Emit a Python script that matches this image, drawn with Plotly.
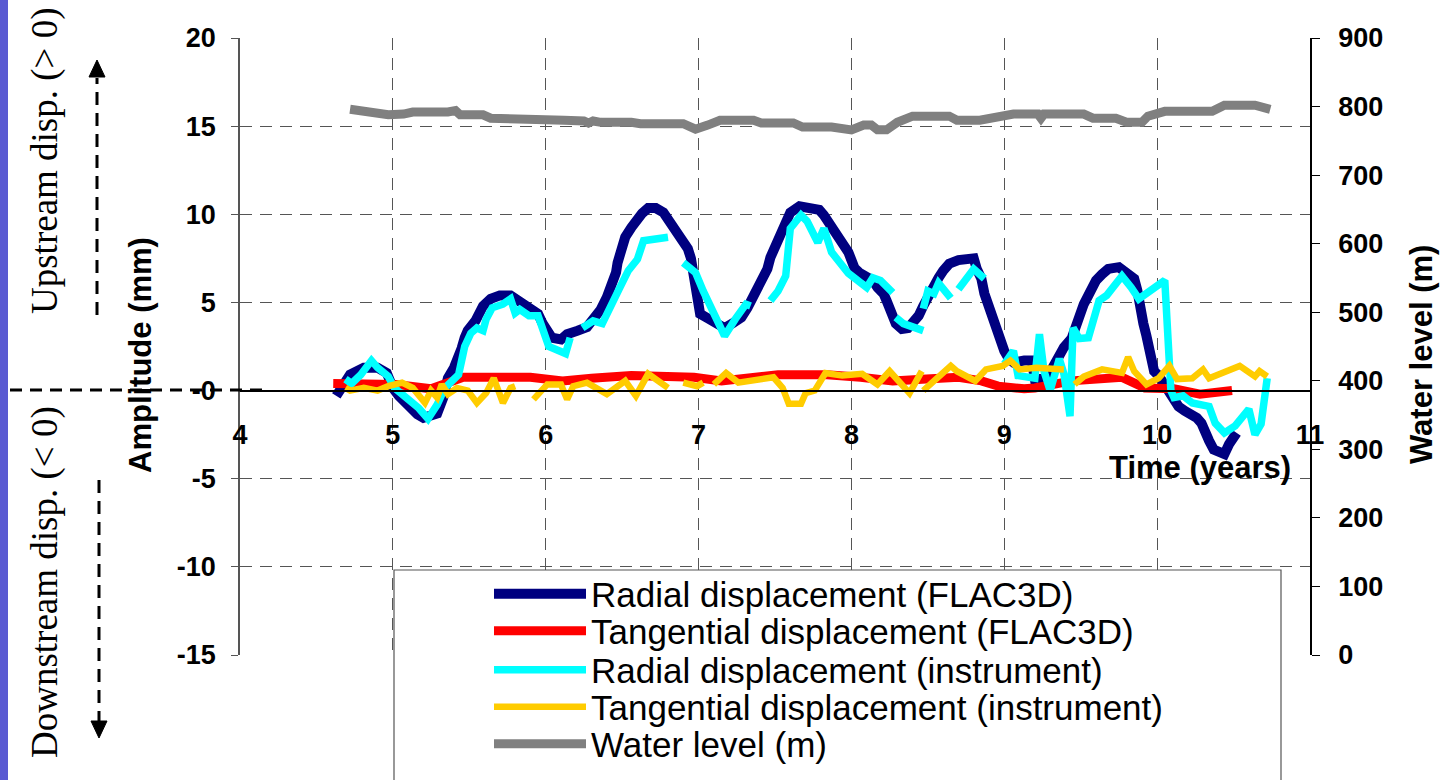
import plotly.graph_objects as go

# ---------------- data ----------------
# Radial displacement computed with FLAC3D (mm)
radial_flac_t = [4.63, 4.69, 4.72, 4.81, 4.90, 4.96, 5.00, 5.04, 5.07, 5.11, 5.16, 5.20, 5.25, 5.29, 5.33,
                 5.36, 5.40, 5.43, 5.45, 5.47, 5.49, 5.54, 5.56, 5.59, 5.64, 5.70, 5.77, 5.83, 5.90, 5.95,
                 5.98, 6.01, 6.04, 6.10, 6.14, 6.21, 6.27, 6.31, 6.36, 6.40, 6.44, 6.46, 6.47, 6.50, 6.52,
                 6.56, 6.59, 6.63, 6.67, 6.72, 6.77, 6.80, 6.83, 6.86, 6.90, 6.93, 6.95, 6.97, 6.98, 7.01,
                 7.06, 7.11, 7.17, 7.22, 7.28, 7.32, 7.36, 7.39, 7.42, 7.45, 7.47, 7.51, 7.53, 7.57, 7.60,
                 7.66, 7.74, 7.79, 7.82, 7.85, 7.89, 7.92, 7.95, 7.98, 8.00, 8.02, 8.05, 8.11, 8.14, 8.17,
                 8.21, 8.23, 8.25, 8.27, 8.29, 8.33, 8.37, 8.40, 8.44, 8.47, 8.50, 8.53, 8.57, 8.60, 8.64,
                 8.70, 8.76, 8.80, 8.82, 8.85, 8.87, 8.90, 8.91, 8.95, 8.97, 9.00, 9.03, 9.06, 9.13, 9.18,
                 9.20, 9.26, 9.31, 9.35, 9.39, 9.44, 9.47, 9.49, 9.52, 9.55, 9.57, 9.60, 9.64, 9.68, 9.75,
                 9.81, 9.85, 9.87, 9.88, 9.90, 9.91, 9.93, 9.95, 9.96, 9.98, 10.01, 10.04, 10.07, 10.11,
                 10.14, 10.18, 10.23, 10.26, 10.29, 10.32, 10.34, 10.37, 10.41, 10.44, 10.47, 10.50, 10.52]
radial_flac_v = [-0.3, 0.5, 0.9, 1.3, 1.3, 1.0, 0.15, -0.3, -0.6, -1.0, -1.35, -1.55, -1.45, -1.3, -0.4,
                 0.7, 1.3, 1.85, 2.4, 3.0, 3.4, 3.95, 4.35, 4.8, 5.2, 5.4, 5.4, 5.1, 4.7, 4.35,
                 3.8, 3.4, 3.0, 2.9, 3.2, 3.4, 3.6, 4.05, 4.6, 5.3, 6.05, 6.7, 7.25, 8.05, 8.7,
                 9.25, 9.65, 10.05, 10.35, 10.35, 10.1, 9.75, 9.4, 9.0, 8.5, 8.05, 7.5, 6.4, 5.6, 4.35,
                 4.1, 3.9, 3.55, 3.8, 4.15, 4.7, 5.3, 5.8, 6.35, 6.9, 7.55, 8.3, 8.9, 9.55, 10.1,
                 10.45, 10.35, 10.25, 9.95, 9.55, 9.2, 8.8, 8.4, 7.85, 7.4, 6.95, 6.7, 6.5, 6.25, 5.85,
                 5.5, 5.1, 4.6, 4.15, 3.8, 3.5, 3.55, 3.85, 4.25, 4.8, 5.3, 5.95, 6.4, 6.8, 7.2,
                 7.4, 7.4, 7.5, 6.9, 6.35, 5.5, 4.7, 4.4, 3.7, 2.95, 2.25, 1.8, 1.6, 1.7, 1.7,
                 0.65, 0.65, 1.2, 1.85, 2.45, 2.95, 3.7, 4.35, 4.9, 5.4, 5.85, 6.25, 6.6, 6.9, 7.0,
                 6.7, 6.35, 5.7, 5.1, 4.4, 3.8, 3.1, 2.45, 1.8, 1.1, 0.85, 0.45, -0.1, -0.5,
                 -0.9, -1.15, -1.35, -1.55, -1.85, -2.3, -2.85, -3.35, -3.5, -3.6, -3.05, -2.7, -2.4]

# Tangential displacement computed with FLAC3D (mm)
tang_flac_t = [4.61, 4.90, 5.02, 5.25, 5.35, 5.46, 5.90, 6.11, 6.30, 6.56, 6.97, 7.15, 7.52, 7.84, 8.06,
               8.27, 8.49, 8.70, 8.85, 8.96, 9.13, 9.20, 9.44, 9.77, 9.92, 10.11, 10.28, 10.49]
tang_flac_v = [0.4, 0.4, 0.35, 0.1, 0.45, 0.75, 0.75, 0.55, 0.7, 0.85, 0.75, 0.55, 0.9, 0.9, 0.75,
               0.55, 0.65, 0.75, 0.55, 0.25, 0.1, 0.15, 0.55, 0.75, 0.15, 0.1, -0.2, 0.0]

# Radial displacement measured by the instrument (mm); None marks missing readings
radial_inst_t = [4.69, 4.73, 4.79, 4.86, 4.90, 4.97, 5.01, 5.09, 5.17, 5.23, 5.29, 5.34, 5.39, 5.43, 5.45,
                 5.47, 5.51, 5.55, 5.59, 5.61, 5.65, 5.72, 5.77, 5.80, 5.83, 5.89, 5.95, 5.99, 6.02, 6.13,
                 6.16, 6.20,
                 6.24, 6.31, 6.37, 6.41, 6.48, 6.54, 6.60, 6.64, 6.80, 6.85,
                 6.90, 6.98, 7.03, 7.10, 7.17, 7.24, 7.31, 7.34, 7.40,
                 7.47, 7.52, 7.57, 7.59, 7.60, 7.67, 7.71, 7.78, 7.82, 7.85, 7.87, 7.98, 8.02, 8.10, 8.14,
                 8.19, 8.27, 8.28,
                 8.29, 8.34, 8.47, 8.47,
                 8.47, 8.50, 8.54, 8.57, 8.65, 8.68,
                 8.70, 8.75, 8.80, 8.87, 8.93,
                 9.00, 9.06, 9.09, 9.20, 9.23, 9.26, 9.30, 9.34, 9.36, 9.39, 9.43, 9.45, 9.49, 9.55, 9.62,
                 9.67, 9.77, 9.83, 9.88, 10.05, 10.07, 10.09, 10.11, 10.17, 10.23, 10.34, 10.38, 10.44,
                 10.51, 10.60, 10.64, 10.68, 10.72]
radial_inst_v = [0.65, 0.4, 0.9, 1.7, 1.3, 0.8, 0.15, -0.4, -1.0, -1.6, -0.8, 0.15, 0.65, 0.9, 1.7,
                 2.5, 3.25, 3.55, 3.4, 4.05, 4.7, 4.9, 5.2, 4.4, 4.6, 4.25, 4.25, 3.4, 2.5, 2.1,
                 3.0, None,
                 3.55, 3.95, 3.8, 4.6, 5.75, 6.8, 7.45, 8.5, 8.7, None,
                 7.25, 6.7, 5.65, 4.35, 3.1, 4.05, 4.9, 4.8, None,
                 5.1, 5.65, 6.5, 8.5, 9.2, 9.95, 9.6, 8.4, 9.2, 8.4, 7.85, 6.65, 6.35, 5.85, 6.4,
                 6.25, 5.55, None,
                 4.15, 3.8, 3.4, None,
                 4.65, 5.65, 5.5, 6.1, 5.25, None,
                 5.75, 6.35, 6.9, 6.35, None,
                 1.5, 2.25, 0.85, 0.7, 3.2, 1.1, 0.0, 1.4, 1.8, 0.95, -1.45, 3.55, 2.95, 3.0, 5.1,
                 5.4, 6.5, 5.85, 5.2, 6.25, 1.85, 0.0, -0.4, -0.3, -0.7, -0.9, -1.85, -2.4,
                 -2.0, -1.05, -2.5, -1.9, 0.7]

# Tangential displacement measured by the instrument (mm); None marks missing readings
tang_inst_t = [4.69, 4.72, 4.81, 4.90, 4.97, 5.06, 5.13, 5.21, 5.25, 5.29, 5.32, 5.36, 5.42, 5.49, 5.55,
               5.61, 5.66, 5.72, 5.77, 5.80, 5.86,
               5.92, 6.01, 6.10, 6.14, 6.18, 6.27, 6.40, 6.52, 6.59, 6.67, 6.80, 6.85,
               6.90, 6.99, 7.03, 7.06,
               7.10, 7.18, 7.26, 7.39, 7.49, 7.55, 7.59, 7.67, 7.70, 7.76, 7.83, 7.94, 8.07, 8.17, 8.25,
               8.38, 8.46, 8.465,
               8.47, 8.54, 8.65, 8.69, 8.81, 8.88, 8.99, 9.04, 9.10, 9.21, 9.39, 9.42,
               9.46, 9.52, 9.64, 9.77, 9.81, 9.85, 9.93, 10.01, 10.08, 10.13, 10.23, 10.30, 10.34, 10.44,
               10.54, 10.64, 10.67, 10.72]
tang_inst_v = [0.15, 0.0, 0.15, 0.0, 0.25, 0.45, 0.15, -0.7, 0.0, -0.4, 0.35, -0.2, 0.15, 0.0, -0.7,
               -0.15, 0.7, -0.7, 0.15, 0.25, None,
               -0.5, 0.35, 0.35, -0.5, 0.25, 0.45, -0.2, 0.55, -0.3, 0.95, 0.15, None,
               0.45, 0.25, 0.45, None,
               0.35, 1.0, 0.45, 0.65, 0.75, 0.15, -0.75, -0.75, -0.15, 0.0, 1.0, 0.85, 0.95, 0.35, 1.1,
               -0.15, 1.1, None,
               0.0, 0.55, 1.4, 1.1, 0.55, 1.2, 1.4, 1.7, 1.2, 1.3, 1.2, None,
               0.35, 0.8, 1.2, 1.0, 1.9, 1.1, 0.35, 0.7, 1.4, 0.65, 0.7, 1.2, 0.7, 1.1,
               1.4, 0.8, 1.1, 0.8]

# Reservoir water level (m), right axis
water_t = [4.72, 4.81, 4.90, 4.97, 5.07, 5.13, 5.36, 5.41, 5.44, 5.59, 5.64, 6.03, 6.12, 6.25, 6.28,
           6.31, 6.36, 6.56, 6.62, 6.90, 6.98, 7.06, 7.14, 7.36, 7.41, 7.62, 7.68, 7.87, 8.00, 8.08,
           8.13, 8.17, 8.23, 8.30, 8.40, 8.64, 8.69, 8.84, 9.01, 9.06, 9.22, 9.24, 9.26, 9.52, 9.58,
           9.73, 9.80, 9.90, 9.94, 10.05, 10.36, 10.44, 10.64, 10.72, 10.74]
water_level = [796, 792, 790, 788, 789, 792, 792, 794, 788, 788, 783, 783, 780, 779, 776,
               779, 777, 777, 775, 775, 767, 773, 780, 780, 776, 776, 770, 770, 766, 773,
               773, 766, 766, 777, 786, 786, 780, 780, 786, 789, 789, 783, 789, 789, 783,
               783, 777, 777, 786, 793, 793, 802, 802, 798, 796]

x_ticks = [4, 5, 6, 7, 8, 9, 10, 11]
y_ticks = [-15, -10, -5, 0, 5, 10, 15, 20]
y_tick_text = ["-15", "-10", "-5", "-0", "5", "10", "15", "20"]
y2_ticks = [0, 100, 200, 300, 400, 500, 600, 700, 800, 900]

series_names = ["Radial displacement (FLAC3D)", "Tangential displacement (FLAC3D)",
                "Radial displacement (instrument)", "Tangential displacement (instrument)",
                "Water level (m)"]
series_colors = ["#000080", "#ff0000", "#00ffff", "#ffcc00", "#808080"]

# ---------------- layout geometry (pixels) ----------------
W, H = 1441, 780
ML, MR, MT, MB = 240, 131, 38, 125
PW, PH = W - ML - MR, H - MT - MB


def px(X):
    """pixel column -> paper x"""
    return (X - ML) / PW


def py(Y):
    """pixel row -> paper y"""
    return (H - MB - Y) / PH


def cy(Y):
    """pixel row -> container y"""
    return (H - Y) / H


SANS = "Liberation Sans, Arial, sans-serif"
SERIF = "Liberation Serif, Times New Roman, serif"

fig = go.Figure()

trace_specs = [
    (radial_flac_t, radial_flac_v, 10, "y", "legend"),
    (tang_flac_t, tang_flac_v, 9, "y", "legend2"),
    (radial_inst_t, radial_inst_v, 7.5, "y", "legend3"),
    (tang_inst_t, tang_inst_v, 6.5, "y", "legend4"),
    (water_t, water_level, 9, "y2", "legend5"),
]
for (tx, vy, w, ax, lg), name, color in zip(trace_specs, series_names, series_colors):
    fig.add_trace(go.Scatter(
        x=tx, y=vy, name=name, mode="lines", yaxis=ax, legend=lg,
        connectgaps=False,
        line=dict(color=color, width=w),
    ))

tick_font = dict(family=SANS, size=27, color="black", weight="bold")
grid_dash = "12px,8px"

fig.update_layout(
    width=W, height=H,
    margin=dict(l=ML, r=MR, t=MT, b=MB, pad=0, autoexpand=False),
    paper_bgcolor="white", plot_bgcolor="white",
    showlegend=True,
    xaxis=dict(
        range=[4, 11], tickvals=x_ticks, anchor="free", position=15 / 35,
        showline=True, linecolor="black", linewidth=1.5,
        showgrid=True, gridcolor="#555555", gridwidth=1, griddash=grid_dash,
        zeroline=False, ticks="", tickfont=tick_font, ticklabelstandoff=20,
    ),
    yaxis=dict(
        range=[-15, 20], tickvals=y_ticks, ticktext=y_tick_text,
        showline=True, linecolor="#555555", linewidth=1.5,
        ticks="outside", ticklen=7, tickcolor="#555555",
        showgrid=True, gridcolor="#555555", gridwidth=1, griddash=grid_dash,
        zeroline=False, tickfont=tick_font, ticklabelstandoff=10,
    ),
    yaxis2=dict(
        range=[0, 900], tickvals=y2_ticks, overlaying="y", side="right", anchor="x",
        showline=True, linecolor="black", linewidth=1.5,
        ticks="outside", ticklen=8, tickcolor="black",
        showgrid=False, zeroline=False, tickfont=tick_font, ticklabelstandoff=13,
    ),
)

# one legend per entry so the rows can sit tightly inside the framed box
legend_rows = [594, 631, 670, 707, 744]
for i, row in enumerate(legend_rows):
    key = "legend" if i == 0 else f"legend{i + 1}"
    fig.update_layout({key: dict(
        x=px(489), y=cy(row), yref="container", xanchor="left", yanchor="middle",
        bgcolor="rgba(0,0,0,0)", borderwidth=0, itemwidth=92,
        font=dict(family=SANS, size=35, color="black"),
    )})

shapes = [
    # blue strip at the left edge
    dict(type="rect", xref="paper", yref="paper", x0=px(0), x1=px(8), y0=py(H), y1=py(0),
         fillcolor="#5a5ad2", line=dict(width=0), layer="below"),
    # dashed reference at zero displacement
    dict(type="line", xref="paper", yref="paper", x0=px(10), x1=px(262), y0=py(390), y1=py(390),
         line=dict(color="black", width=3, dash="12px,8px")),
    # upstream arrow
    dict(type="line", xref="paper", yref="paper", x0=px(97), x1=px(97), y0=py(315), y1=py(78),
         line=dict(color="black", width=3, dash="13px,8px")),
    dict(type="path", xref="paper", yref="paper",
         path=f"M{px(89)},{py(77)} L{px(105)},{py(77)} L{px(97)},{py(60)} Z",
         fillcolor="black", line=dict(color="black", width=1)),
    # downstream arrow
    dict(type="line", xref="paper", yref="paper", x0=px(99), x1=px(99), y0=py(480), y1=py(722),
         line=dict(color="black", width=3, dash="13px,8px")),
    dict(type="path", xref="paper", yref="paper",
         path=f"M{px(91)},{py(721)} L{px(107)},{py(721)} L{px(99)},{py(738)} Z",
         fillcolor="black", line=dict(color="black", width=1)),
    # legend frame
    dict(type="rect", xref="paper", yref="paper", x0=px(394), x1=px(1281), y0=py(800), y1=py(570),
         fillcolor="white", line=dict(color="#555555", width=1.2), layer="above"),
]
fig.update_layout(shapes=shapes)

title_font = dict(family=SANS, size=31, color="black", weight="bold")
serif_font = dict(family=SERIF, size=37, color="black")
annotations = [
    dict(text="Amplitude (mm)", x=px(140), y=py(355), textangle=-90, font=title_font),
    dict(text="Water level (m)", x=px(1421), y=py(355), textangle=-90, font=title_font),
    dict(text="Time (years)", x=px(1200), y=py(467), textangle=0, font=title_font),
    dict(text="Upstream disp. (&gt; 0)", x=px(45), y=py(161), textangle=-90, font=serif_font),
    dict(text="Downstream disp. (&lt; 0)", x=px(45), y=py(582), textangle=-90, font=serif_font),
]
for a in annotations:
    a.update(xref="paper", yref="paper", xanchor="center", yanchor="middle", showarrow=False)
fig.update_layout(annotations=annotations)

fig.write_html("out.html")
